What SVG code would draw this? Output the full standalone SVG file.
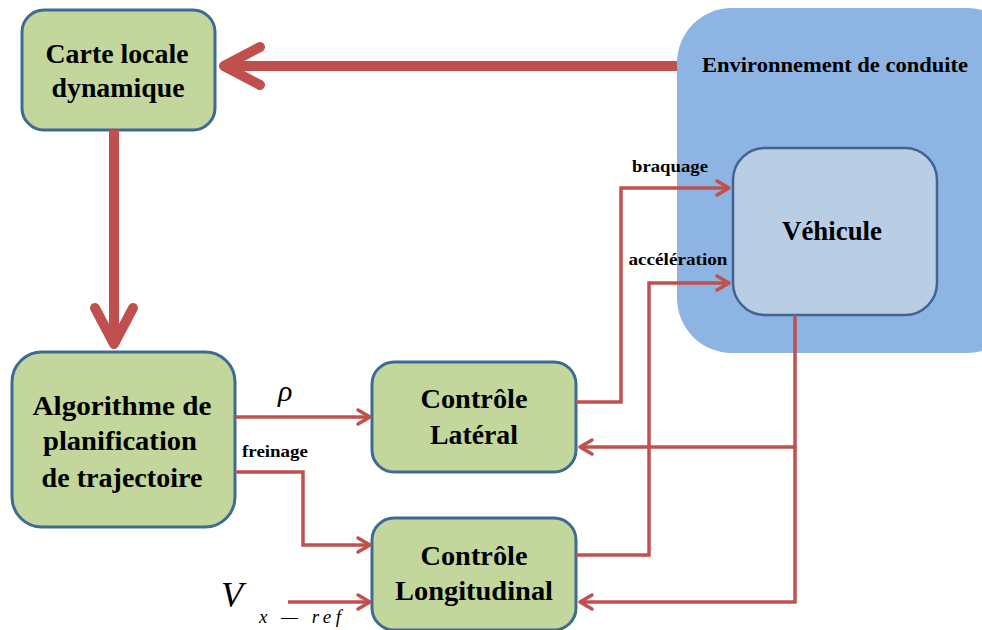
<svg xmlns="http://www.w3.org/2000/svg" width="982" height="630" viewBox="0 0 982 630">
<style>
.box{fill:#C3D69B;stroke:#3E6A94;stroke-width:3}
.lbl{font-family:"Liberation Serif","Times New Roman",serif;font-weight:bold;fill:#000;text-anchor:middle}
.big{font-size:27px}
.sm{font-size:17px}
.math{font-family:"Liberation Serif","Times New Roman",serif;font-style:italic;fill:#000}
.thick{fill:none;stroke:#C0504D;stroke-width:10}
.thin{fill:none;stroke:#C0504D;stroke-width:3.5}
</style>
<defs>
<marker id="ahThick" markerUnits="userSpaceOnUse" orient="auto" overflow="visible" markerWidth="10" markerHeight="10" refX="0" refY="0">
<path d="M-36,-19 L0,0 L-36,19" fill="none" stroke="#C0504D" stroke-width="10" stroke-linecap="round" stroke-linejoin="round"/>
</marker>
<marker id="ahThin" markerUnits="userSpaceOnUse" orient="auto" overflow="visible" markerWidth="10" markerHeight="10" refX="0" refY="0">
<path d="M-12,-7 L0,0 L-12,7" fill="none" stroke="#C0504D" stroke-width="3.5" stroke-linecap="round" stroke-linejoin="round"/>
</marker>
</defs>
<rect width="982" height="630" fill="#FFFFFF"/>
<g id="env">
<rect x="677" y="8" width="345" height="345" rx="55" fill="#8DB4E2"/>
<text class="lbl" x="835" y="72" font-size="22" textLength="266" lengthAdjust="spacingAndGlyphs">Environnement de conduite</text>
</g>
<g id="vehicule">
<rect x="733" y="148" width="204" height="167" rx="32" fill="#B9CDE5" stroke="#3E6593" stroke-width="2.5"/>
<text class="lbl big" x="832" y="240" textLength="100" lengthAdjust="spacingAndGlyphs">Véhicule</text>
</g>
<g id="carte">
<rect class="box" x="22" y="10" width="193" height="120" rx="22"/>
<text class="lbl big" x="117" y="63" textLength="143" lengthAdjust="spacingAndGlyphs">Carte locale</text>
<text class="lbl big" x="118" y="97" textLength="133" lengthAdjust="spacingAndGlyphs">dynamique</text>
</g>
<g id="algorithme">
<rect class="box" x="12" y="352" width="223" height="175" rx="30"/>
<text class="lbl big" x="122" y="415" textLength="179" lengthAdjust="spacingAndGlyphs">Algorithme  de</text>
<text class="lbl big" x="120" y="450" textLength="154" lengthAdjust="spacingAndGlyphs">planification</text>
<text class="lbl big" x="122" y="487" textLength="161" lengthAdjust="spacingAndGlyphs">de trajectoire</text>
</g>
<g id="lateral">
<rect class="box" x="372" y="362" width="204" height="110" rx="22"/>
<text class="lbl big" x="474" y="408" textLength="107" lengthAdjust="spacingAndGlyphs">Contrôle</text>
<text class="lbl big" x="474" y="444" textLength="88" lengthAdjust="spacingAndGlyphs">Latéral</text>
</g>
<g id="longitudinal">
<rect class="box" x="372" y="518" width="204" height="112" rx="22"/>
<text class="lbl big" x="474" y="565" textLength="107" lengthAdjust="spacingAndGlyphs">Contrôle</text>
<text class="lbl big" x="474" y="600" textLength="158" lengthAdjust="spacingAndGlyphs">Longitudinal</text>
</g>
<g id="connectors">
<path class="thick" d="M677,66 H224" marker-end="url(#ahThick)"/>
<path class="thick" d="M114,130 V344" marker-end="url(#ahThick)"/>
<path class="thin" d="M235,417 H370" marker-end="url(#ahThin)"/>
<path class="thin" d="M235,472 H303 V545 H370" marker-end="url(#ahThin)"/>
<path class="thin" d="M288,602 H370" marker-end="url(#ahThin)"/>
<path class="thin" d="M576,402 H621 V188 H729" marker-end="url(#ahThin)"/>
<path class="thin" d="M576,555 H649 V283 H729" marker-end="url(#ahThin)"/>
<path class="thin" d="M795,315 V602 H580" marker-end="url(#ahThin)"/>
<path class="thin" d="M795,447 H580" marker-end="url(#ahThin)"/>
</g>
<g id="labels">
<text class="lbl sm" x="275" y="457" textLength="66" lengthAdjust="spacingAndGlyphs">freinage</text>
<text class="lbl sm" x="670" y="172" textLength="76" lengthAdjust="spacingAndGlyphs">braquage</text>
<text class="lbl sm" x="678" y="265" textLength="99" lengthAdjust="spacingAndGlyphs">accélération</text>
<text class="math" x="278" y="401" font-size="30">ρ</text>
<text class="math" x="221" y="607" font-size="36">V</text>
<text class="math" x="259" y="623" font-size="19" textLength="82" lengthAdjust="spacing">x — ref</text>
</g>
</svg>
